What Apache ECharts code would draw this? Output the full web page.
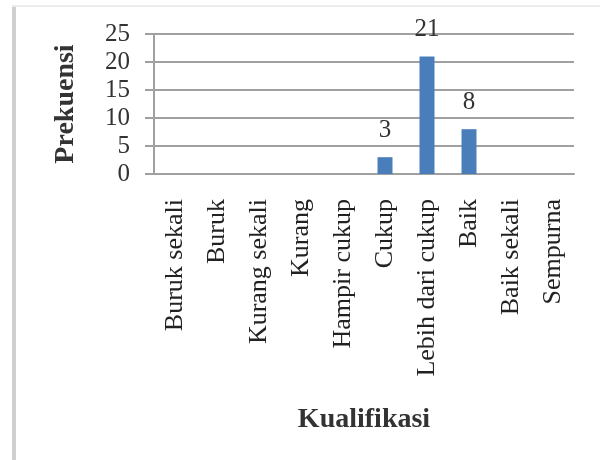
<!DOCTYPE html>
<html>
<head>
<meta charset="utf-8">
<script src="https://cdn.jsdelivr.net/npm/echarts@6/dist/echarts.min.js"></script>
<style>
html,body{margin:0;padding:0;background:#fff;}
#chart{width:600px;height:460px;}
</style>
</head>
<body>
<div id="chart"></div>
<script>
var categories = ["Buruk sekali","Buruk","Kurang sekali","Kurang","Hampir cukup","Cukup","Lebih dari cukup","Baik","Baik sekali","Sempurna"];
var frekuensi = [null,null,null,null,null,3,21,8,null,null];
var yTicks = [0,5,10,15,20,25];
var xTitle = "Kualifikasi";
var yTitle = "Prekuensi";

var serif = "'Liberation Serif','Times New Roman',serif";
var chart = echarts.init(document.getElementById('chart'));
chart.setOption({
  animation: false,
  backgroundColor: '#fff',
  grid: {left: 154, right: 26, top: 34, bottom: 286},
  graphic: [
    {type: 'line', shape: {x1: 14, y1: 6, x2: 14, y2: 460}, style: {stroke: '#cfcfcf', lineWidth: 4}},
    {type: 'line', shape: {x1: 12, y1: 6, x2: 600, y2: 6}, style: {stroke: '#ececec', lineWidth: 2}}
  ],
  xAxis: {
    type: 'category',
    data: categories,
    name: xTitle,
    nameLocation: 'middle',
    nameGap: 232,
    nameTextStyle: {fontFamily: serif, fontSize: 28, fontWeight: 'bold', color: '#333'},
    axisLine: {show: true, lineStyle: {color: '#a0a0a0', width: 2}},
    axisTick: {show: false},
    axisLabel: {rotate: 90, margin: 25, fontFamily: serif, fontSize: 26, color: '#222', interval: 0}
  },
  yAxis: {
    type: 'value',
    min: yTicks[0],
    max: yTicks[yTicks.length - 1],
    interval: 5,
    name: yTitle,
    nameLocation: 'middle',
    nameGap: 74,
    nameTextStyle: {fontFamily: serif, fontSize: 28, fontWeight: 'bold', color: '#333'},
    axisLine: {show: true, lineStyle: {color: '#a0a0a0', width: 2}},
    axisTick: {show: true, length: 9, lineStyle: {color: '#a0a0a0', width: 2}},
    axisLabel: {margin: 24, fontFamily: serif, fontSize: 25, color: '#333'},
    splitLine: {show: true, lineStyle: {color: '#a0a0a0', width: 2}}
  },
  series: [{
    type: 'bar',
    data: frekuensi,
    barWidth: 15,
    itemStyle: {color: '#4a7ebb'},
    label: {show: true, position: 'top', distance: 14, fontFamily: serif, fontSize: 25, color: '#333'}
  }]
});
</script>
</body>
</html>
